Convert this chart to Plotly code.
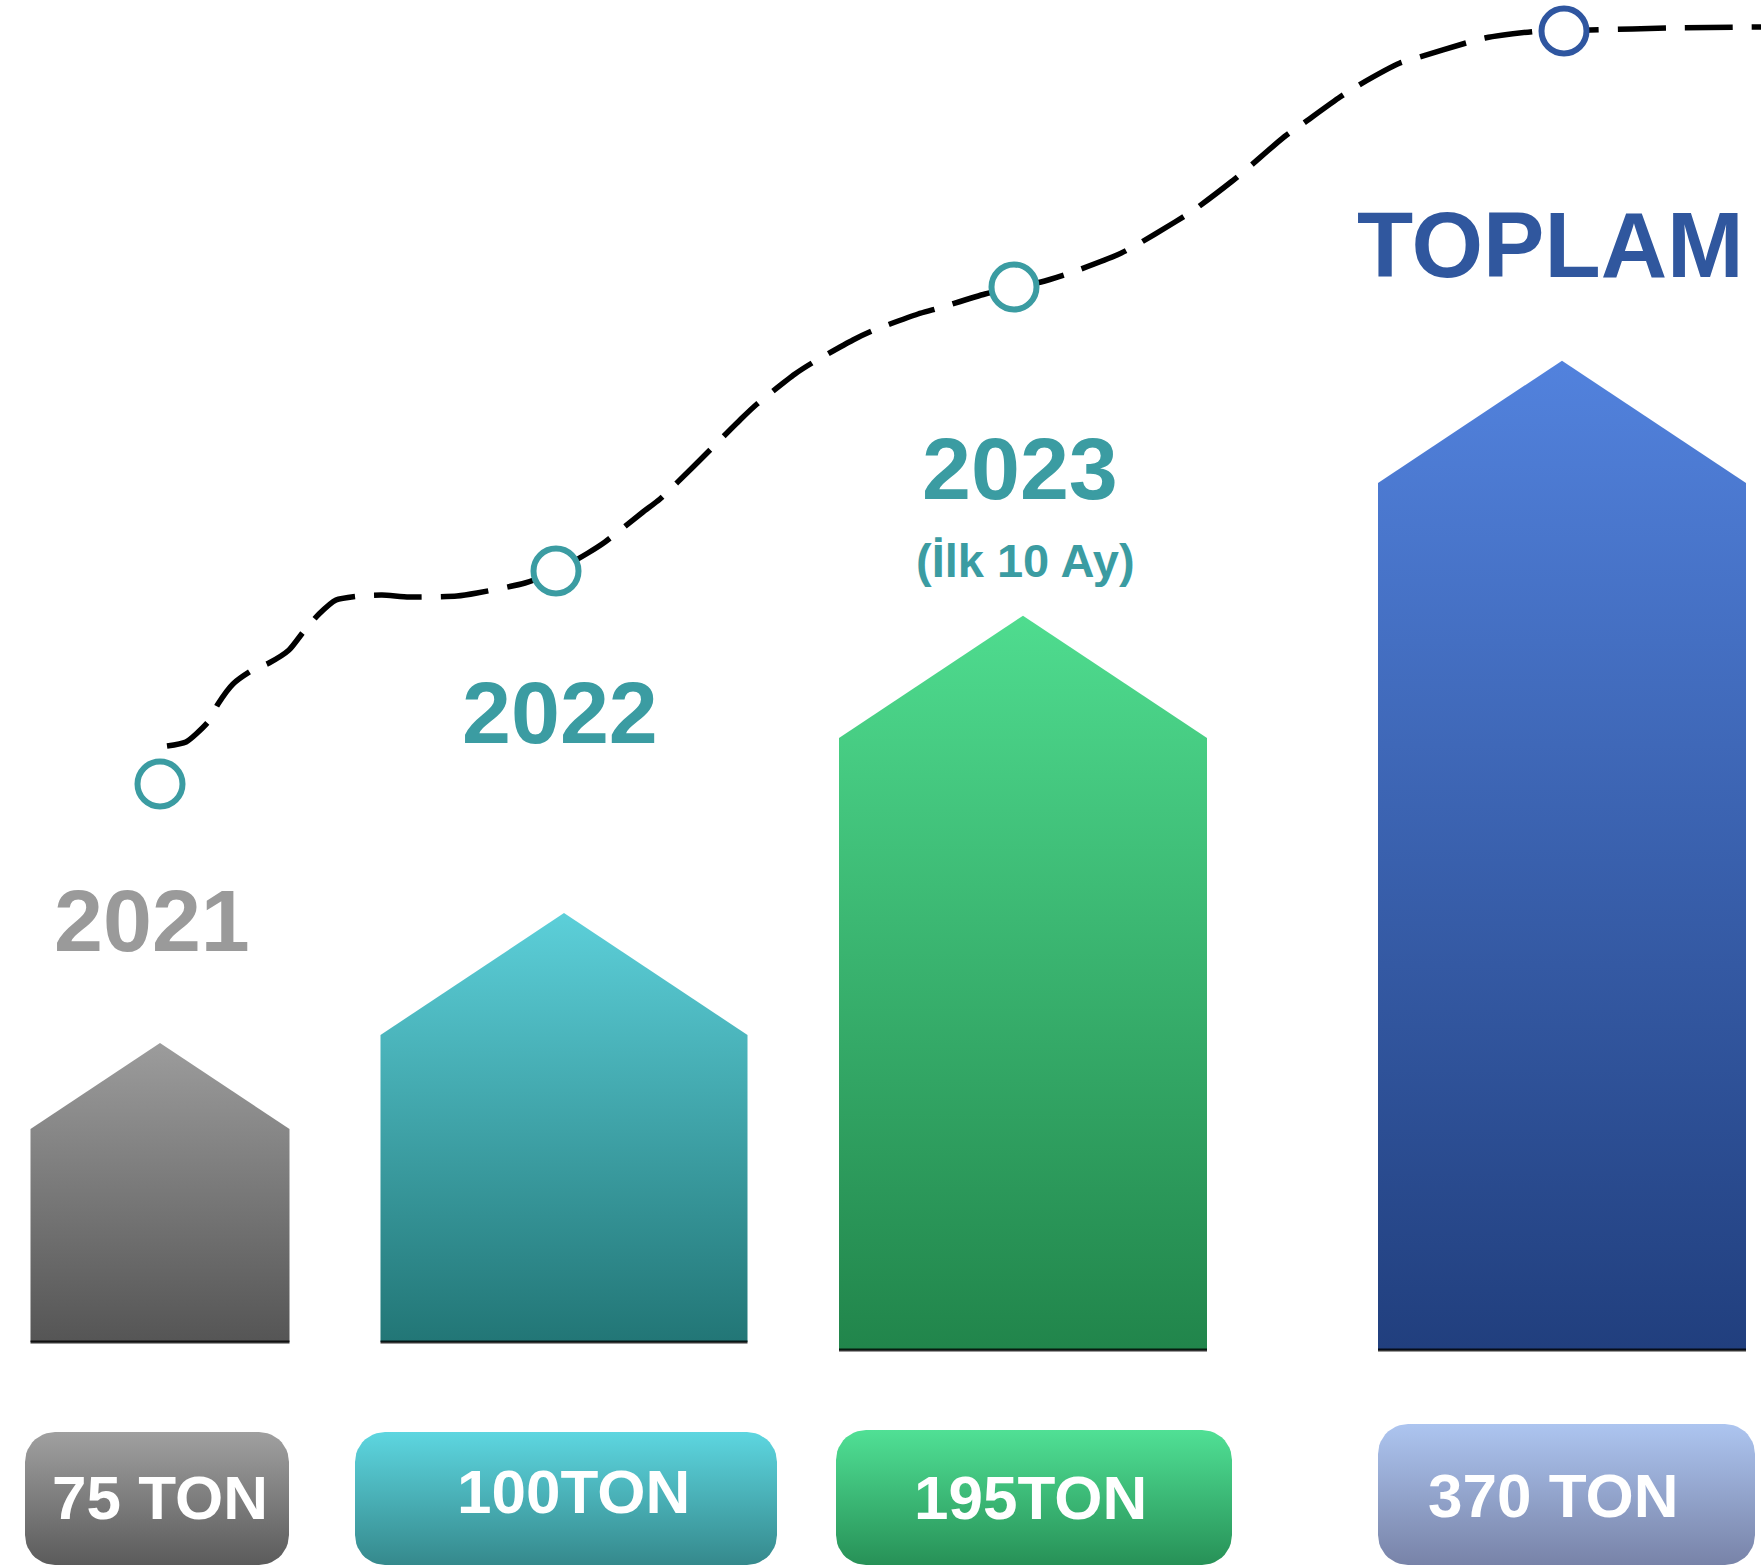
import numpy as np
import plotly.graph_objects as go

# ---------------- data ----------------
categories = ["2021", "2022", "2023", "TOPLAM"]
tons = [75, 100, 195, 370]
ton_labels = ["75 TON", "100TON", "195TON", "370 TON"]
sub_labels = ["", "", "(İlk 10 Ay)", ""]
# drawn height of each house wall (chart units)
house_heights = [213, 307, 612, 867]

# dashed growth trend (chart units)
trend_x = [167, 186, 208, 218, 233, 251, 269, 289, 304, 319, 336, 359, 382, 409, 457, 477,
           525, 556, 588, 605, 643, 660, 694, 708, 742, 757, 795, 812, 853, 872, 918, 936,
           985, 1014, 1041, 1070, 1117, 1133, 1175, 1194, 1231, 1248, 1284, 1301, 1340, 1359,
           1400, 1420, 1466, 1485, 1539, 1564, 1590, 1672, 1761]
trend_y = [746, 742, 722, 704, 684, 671, 663, 650, 631, 614, 600, 596, 595, 597, 596, 593,
           583, 571, 553, 542, 512, 499, 466, 452, 418, 404, 374, 363, 340, 331, 314, 309,
           294, 287, 282, 273, 255, 247, 222, 210, 182, 168, 137, 125, 97, 85, 63, 57,
           43, 38, 31, 31, 30, 28, 27]
milestone_x = [160, 556, 1014, 1564]
milestone_y = [784, 571, 287, 31]

# ---------------- layout geometry & styles ----------------
W, H = 1761, 1568
centers = [160, 564, 1023, 1562]
half_w = [129.5, 183.5, 184, 184]
baseline = [1342, 1342, 1350, 1350]
roof_ratio = 0.665

house_top = ["#9c9c9c", "#5ccfd9", "#4fdc8f", "#5282dd"]
house_bot = ["#555555", "#227676", "#21854b", "#213f7e"]

box_x0 = [25, 355, 836, 1378]
box_x1 = [289, 777, 1232, 1755]
box_y0 = [1432, 1432, 1430, 1424]
box_y1 = [1565, 1565, 1565, 1565]
box_r = 30
box_top = ["#a0a0a0", "#5dd6e0", "#50e095", "#adc5f0"]
box_bot = ["#5b5b5b", "#35898c", "#279157", "#7883a8"]
box_text_xy = [(160, 1497), (573, 1491), (1030, 1497), (1553, 1495)]

year_xy = [(152, 920), (560, 712), (1020, 468), (1550, 245)]
year_size = [88, 88, 88, 92]
year_color = ["#9a9a9a", "#3b9ca2", "#3b9ca2", "#30579e"]
sub_xy = [None, None, (1025, 560), None]
ring_color = ["#3b9ca2", "#3b9ca2", "#3b9ca2", "#2f56a0"]

fig = go.Figure()

# houses
for i in range(len(categories)):
    c, hw, b, h = centers[i], half_w[i], baseline[i], house_heights[i]
    roof = hw * roof_ratio
    xs = [c - hw, c - hw, c, c + hw, c + hw, c - hw]
    ys = [b, b - h, b - h - roof, b - h, b, b]
    fig.add_trace(go.Scatter(
        x=xs, y=ys, mode="lines", fill="toself", line=dict(width=0),
        fillgradient=dict(type="vertical",
                          colorscale=[[0, house_bot[i]], [1, house_top[i]]]),
        hoverinfo="skip", showlegend=False))
    fig.add_trace(go.Scatter(
        x=[c - hw, c + hw], y=[b, b], mode="lines",
        line=dict(color="rgba(0,0,0,0.8)", width=3),
        hoverinfo="skip", showlegend=False))

# rounded label boxes
def rounded_rect(x0, x1, y0, y1, r, n=12):
    xs, ys = [], []
    corners = [(x1 - r, y0 + r, -90, 0), (x1 - r, y1 - r, 0, 90),
               (x0 + r, y1 - r, 90, 180), (x0 + r, y0 + r, 180, 270)]
    for cx, cy, a0, a1 in corners:
        t = np.radians(np.linspace(a0, a1, n))
        xs.extend(cx + r * np.cos(t))
        ys.extend(cy + r * np.sin(t))
    xs.append(xs[0]); ys.append(ys[0])
    return xs, ys

for i in range(len(categories)):
    xs, ys = rounded_rect(box_x0[i], box_x1[i], box_y0[i], box_y1[i], box_r)
    fig.add_trace(go.Scatter(
        x=xs, y=ys, mode="lines", fill="toself", line=dict(width=0),
        fillgradient=dict(type="vertical",
                          colorscale=[[0, box_bot[i]], [1, box_top[i]]]),
        hoverinfo="skip", showlegend=False))

# trend line
fig.add_trace(go.Scatter(
    x=trend_x, y=trend_y, mode="lines",
    line=dict(color="#000000", width=5.5, dash="48px,19px", shape="spline", smoothing=0.6),
    hoverinfo="skip", showlegend=False))

# milestone rings
fig.add_trace(go.Scatter(
    x=milestone_x, y=milestone_y, mode="markers",
    marker=dict(symbol="circle", size=45, color="white",
                line=dict(color=ring_color, width=6)),
    hoverinfo="skip", showlegend=False))

annotations = []
for i in range(len(categories)):
    x, y = year_xy[i]
    annotations.append(dict(
        x=x, y=y, text=categories[i], showarrow=False, xanchor="center", yanchor="middle",
        font=dict(family="Liberation Sans, Arial, sans-serif", size=year_size[i],
                  color=year_color[i], weight="bold")))
    if sub_labels[i]:
        sx, sy = sub_xy[i]
        annotations.append(dict(
            x=sx, y=sy, text=sub_labels[i], showarrow=False, xanchor="center", yanchor="middle",
            font=dict(family="Liberation Sans, Arial, sans-serif", size=47,
                      color=year_color[i], weight="bold")))
    tx, ty = box_text_xy[i]
    annotations.append(dict(
        x=tx, y=ty, text=ton_labels[i], showarrow=False, xanchor="center", yanchor="middle",
        font=dict(family="Liberation Sans, Arial, sans-serif", size=62,
                  color="white", weight="bold")))

fig.update_layout(
    width=W, height=H, margin=dict(l=0, r=0, t=0, b=0),
    paper_bgcolor="white", plot_bgcolor="white",
    xaxis=dict(range=[0, W], visible=False, fixedrange=True),
    yaxis=dict(range=[H, 0], visible=False, fixedrange=True),
    annotations=annotations, showlegend=False,
)

fig.write_html("out.html", config={"displayModeBar": False},
               post_script="document.body.style.margin='0';document.body.style.overflow='hidden';")
